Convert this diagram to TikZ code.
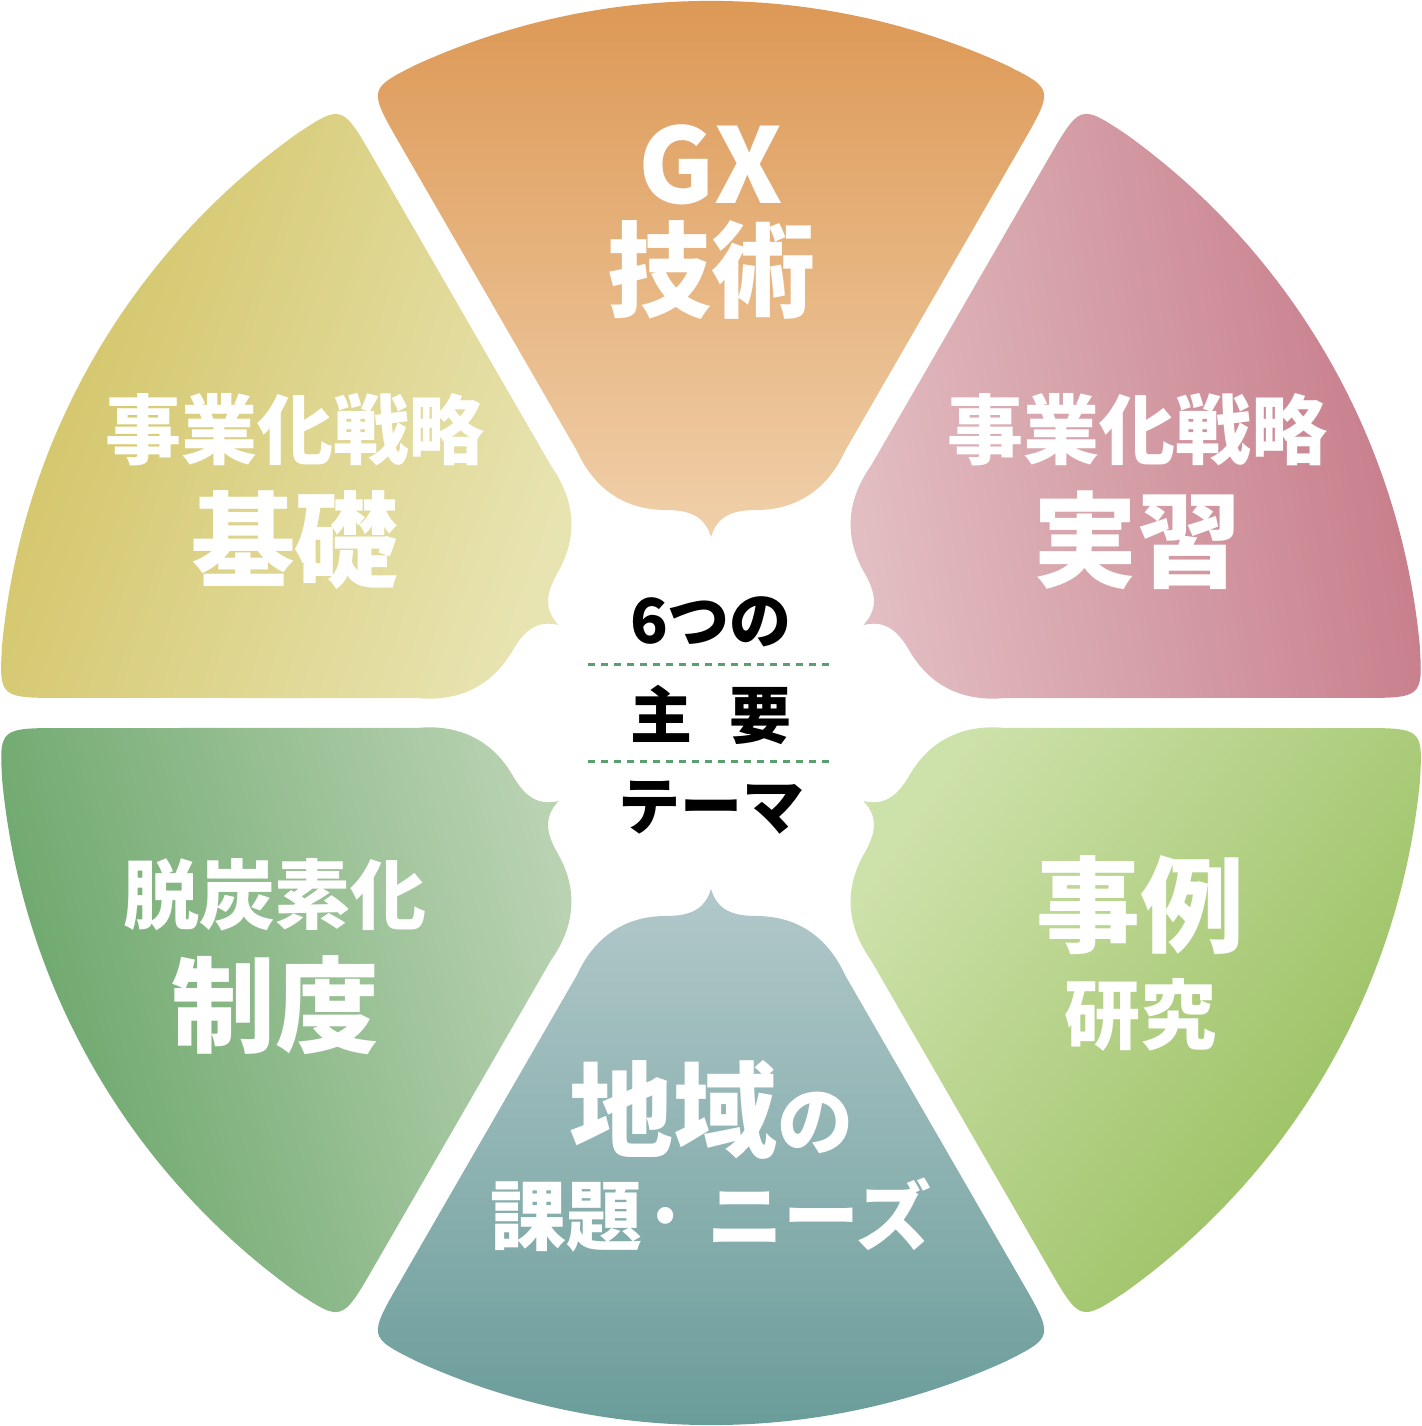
\documentclass[tikz,border=0pt]{standalone}
\usepackage{fontspec}
\setmainfont{Noto Sans CJK JP}
\definecolor{tD}{RGB}{220,150,82}\definecolor{tL}{RGB}{240,208,170}
\definecolor{urD}{RGB}{198,122,136}\definecolor{urL}{RGB}{226,190,194}
\definecolor{lrD}{RGB}{150,190,92}\definecolor{lrL}{RGB}{205,225,170}
\definecolor{bD}{RGB}{103,155,152}\definecolor{bL}{RGB}{178,200,202}
\definecolor{llD}{RGB}{104,165,104}\definecolor{llL}{RGB}{185,210,178}
\definecolor{ulD}{RGB}{210,195,100}\definecolor{ulL}{RGB}{232,228,178}
\definecolor{dashc}{RGB}{90,160,110}
\newcommand{\sectorpath}{(0,176) .. controls (6,196) and (20,203) .. (45,203)
 .. controls (100,203) and (124,240) .. (134,262) -- (310,567)
 .. controls (343,624) .. (295,648) arc[start angle=65.5,end angle=114.5,radius=712]
 .. controls (-343,624) .. (-310,567) -- (-134,262)
 .. controls (-124,240) and (-100,203) .. (-45,203)
 .. controls (-20,203) and (-6,196) .. (0,176) -- cycle}
\tikzset{
 sec/.style n args={4}{shift={(711,713)},rotate=#1,top color=#3,bottom color=#4,shading angle=#2},
 big/.style={text=white,font=\bfseries\fontsize{52}{56}\selectfont,inner sep=0},
 mid/.style={text=white,font=\bfseries\fontsize{38}{42}\selectfont,inner sep=0},
 ctr/.style={text=black,font=\bfseries\fontsize{31}{34}\selectfont,inner sep=0},
 dl/.style={dashc,line width=1.5pt,dash pattern=on 3.5pt off 3pt}
}
\begin{document}
\begin{tikzpicture}[x=0.5pt,y=0.5pt]
\useasboundingbox (0,0) rectangle (1422,1426);
\shade[sec={0}{0}{tD}{tL}] \sectorpath;
\shade[sec={-60}{-80}{urD}{urL}] \sectorpath;
\shade[sec={-120}{-125}{lrD}{lrL}] \sectorpath;
\shade[sec={180}{180}{bD}{bL}] \sectorpath;
\shade[sec={120}{105}{llD}{llL}] \sectorpath;
\shade[sec={60}{70}{ulD}{ulL}] \sectorpath;
% top
\node[big] (gx) at (711,1261) {GX};
\node[big] (gijutsu) at (711,1156) {技術};
% upper right
\node[mid] (ur1) at (1137,996) {事業化戦略};
\node[big] (ur2) at (1137,886) {実習};
% lower right
\node[big] (lr1) at (1140,521) {事例};
\node[mid] (lr2) at (1140,411) {研究};
% bottom
\node[big] (b1) at (711,316) {地域\fontsize{38}{42}\selectfont の};
\node[mid] (b2) at (711,211) {課題·\hspace{0.25em}ニーズ};
% lower left
\node[mid] (ll1) at (275,531) {脱炭素化};
\node[big] (ll2) at (275,421) {制度};
% upper left
\node[mid] (ul1) at (295,996) {事業化戦略};
\node[big] (ul2) at (295,886) {基礎};
% center
\node[ctr] (c1) at (711,804) {6つの};
\node[ctr] (c2) at (711,711) {主\hspace{0.6em}要};
\node[ctr] (c3) at (711,618) {テーマ};
\coordinate (d1a) at (588,761); \coordinate (d1b) at (832,761);
\coordinate (d2a) at (588,664); \coordinate (d2b) at (832,664);
\draw[dl] (d1a) -- (d1b);
\draw[dl] (d2a) -- (d2b);
\end{tikzpicture}
\end{document}
